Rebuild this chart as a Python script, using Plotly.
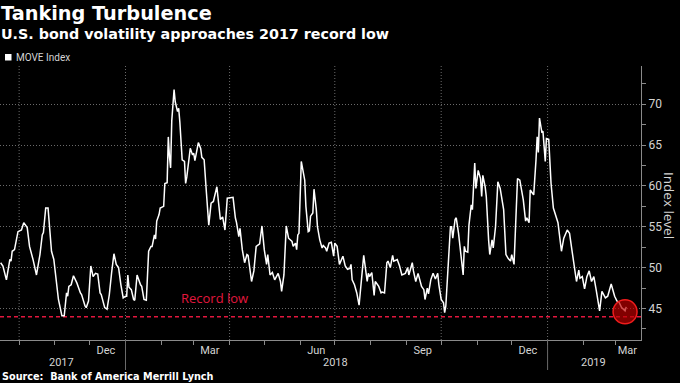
import plotly.graph_objects as go
import pandas as pd

# ---- data ----
dates = [
    "2017-09-15", "2017-09-17", "2017-09-20", "2017-09-23", "2017-09-24", "2017-09-25", "2017-09-27", "2017-09-30",
    "2017-10-03", "2017-10-05", "2017-10-08", "2017-10-10", "2017-10-13", "2017-10-16", "2017-10-19", "2017-10-21",
    "2017-10-22", "2017-10-24", "2017-10-26", "2017-10-29", "2017-10-31", "2017-11-02", "2017-11-04", "2017-11-07",
    "2017-11-09", "2017-11-11", "2017-11-12", "2017-11-13", "2017-11-15", "2017-11-17", "2017-11-20", "2017-11-23",
    "2017-11-24", "2017-11-27", "2017-11-28", "2017-11-30", "2017-12-02", "2017-12-04", "2017-12-06", "2017-12-08",
    "2017-12-10", "2017-12-11", "2017-12-14", "2017-12-16", "2017-12-18", "2017-12-20", "2017-12-22", "2017-12-24",
    "2017-12-26", "2017-12-28", "2017-12-30", "2018-01-01", "2018-01-02", "2018-01-03", "2018-01-04", "2018-01-06",
    "2018-01-08", "2018-01-09", "2018-01-11", "2018-01-14", "2018-01-15", "2018-01-17", "2018-01-19", "2018-01-21",
    "2018-01-23", "2018-01-24", "2018-01-26", "2018-01-27", "2018-01-28", "2018-01-30", "2018-01-31", "2018-02-03",
    "2018-02-04", "2018-02-06", "2018-02-07", "2018-02-08", "2018-02-09", "2018-02-10", "2018-02-12", "2018-02-13",
    "2018-02-15", "2018-02-16", "2018-02-17", "2018-02-19", "2018-02-21", "2018-02-22", "2018-02-23", "2018-02-26",
    "2018-02-28", "2018-03-01", "2018-03-02", "2018-03-05", "2018-03-07", "2018-03-08", "2018-03-10", "2018-03-12",
    "2018-03-14", "2018-03-16", "2018-03-18", "2018-03-21", "2018-03-24", "2018-03-26", "2018-03-28", "2018-03-30",
    "2018-04-03", "2018-04-04", "2018-04-06", "2018-04-07", "2018-04-09", "2018-04-10", "2018-04-12", "2018-04-14",
    "2018-04-16", "2018-04-17", "2018-04-20", "2018-04-22", "2018-04-24", "2018-04-27", "2018-04-29", "2018-05-01",
    "2018-05-03", "2018-05-04", "2018-05-06", "2018-05-08", "2018-05-10", "2018-05-13", "2018-05-15", "2018-05-16",
    "2018-05-18", "2018-05-20", "2018-05-22", "2018-05-25", "2018-05-26", "2018-05-28", "2018-05-29", "2018-05-30",
    "2018-05-31", "2018-06-02", "2018-06-05", "2018-06-06", "2018-06-08", "2018-06-09", "2018-06-10", "2018-06-12",
    "2018-06-13", "2018-06-15", "2018-06-16", "2018-06-18", "2018-06-20", "2018-06-21", "2018-06-23", "2018-06-24",
    "2018-06-26", "2018-06-28", "2018-06-30", "2018-07-01", "2018-07-03", "2018-07-04", "2018-07-05", "2018-07-08",
    "2018-07-10", "2018-07-12", "2018-07-14", "2018-07-15", "2018-07-16", "2018-07-18", "2018-07-20", "2018-07-22",
    "2018-07-24", "2018-07-26", "2018-07-29", "2018-07-30", "2018-07-31", "2018-08-02", "2018-08-04", "2018-08-05",
    "2018-08-08", "2018-08-10", "2018-08-11", "2018-08-13", "2018-08-15", "2018-08-16", "2018-08-18", "2018-08-20",
    "2018-08-21", "2018-08-24", "2018-08-26", "2018-08-28", "2018-08-31", "2018-09-02", "2018-09-03", "2018-09-06",
    "2018-09-07", "2018-09-09", "2018-09-11", "2018-09-14", "2018-09-16", "2018-09-17", "2018-09-19", "2018-09-20",
    "2018-09-22", "2018-09-24", "2018-09-26", "2018-09-28", "2018-09-29", "2018-10-01", "2018-10-03", "2018-10-04",
    "2018-10-05", "2018-10-07", "2018-10-09", "2018-10-10", "2018-10-11", "2018-10-13", "2018-10-14", "2018-10-16",
    "2018-10-18", "2018-10-20", "2018-10-21", "2018-10-22", "2018-10-24", "2018-10-25", "2018-10-27", "2018-10-28",
    "2018-10-30", "2018-10-31", "2018-11-02", "2018-11-04", "2018-11-05", "2018-11-06", "2018-11-08", "2018-11-09",
    "2018-11-11", "2018-11-12", "2018-11-14", "2018-11-15", "2018-11-17", "2018-11-19", "2018-11-21", "2018-11-23",
    "2018-11-24", "2018-11-26", "2018-11-28", "2018-11-30", "2018-12-01", "2018-12-03", "2018-12-06", "2018-12-08",
    "2018-12-10", "2018-12-11", "2018-12-13", "2018-12-14", "2018-12-16", "2018-12-17", "2018-12-19", "2018-12-20",
    "2018-12-22", "2018-12-23", "2018-12-24", "2018-12-25", "2018-12-27", "2018-12-28", "2018-12-30", "2018-12-31",
    "2019-01-02", "2019-01-04", "2019-01-06", "2019-01-08", "2019-01-10", "2019-01-13", "2019-01-15", "2019-01-18",
    "2019-01-20", "2019-01-22", "2019-01-25", "2019-01-26", "2019-01-28", "2019-01-29", "2019-01-31", "2019-02-02",
    "2019-02-04", "2019-02-06", "2019-02-08", "2019-02-10", "2019-02-12", "2019-02-13", "2019-02-15", "2019-02-17",
    "2019-02-20", "2019-02-22", "2019-02-25", "2019-02-28", "2019-03-02", "2019-03-04", "2019-03-06", "2019-03-09",
    "2019-03-10",
]

move_index = [
    50.6, 50.2, 48.5, 51.0, 50.8, 52.0, 52.2, 54.4,
    54.6, 55.5, 54.9, 52.6, 51.0, 49.1, 51.6, 54.0,
    54.3, 57.3, 57.3, 52.0, 51.0, 48.5, 46.1, 44.1,
    44.1, 46.9, 46.5, 47.7, 47.9, 49.0, 48.1, 46.9,
    46.7, 45.3, 45.1, 45.9, 50.2, 48.9, 49.3, 49.2,
    46.9, 46.7, 45.1, 44.9, 46.7, 49.4, 51.7, 50.4,
    50.0, 47.9, 46.3, 46.5, 46.5, 49.1, 47.6, 47.3,
    46.1, 46.0, 49.1, 47.9, 47.7, 46.1, 46.0, 52.0,
    52.6, 52.6, 54.0, 53.5, 55.7, 56.5, 57.3, 57.5,
    60.3, 60.4, 66.0, 63.6, 62.2, 68.0, 71.8, 70.3,
    69.1, 69.5, 67.8, 63.2, 63.0, 60.3, 61.1, 64.6,
    63.8, 64.0, 63.1, 65.3, 64.6, 63.5, 63.2, 59.1,
    55.2, 57.9, 58.1, 59.9, 55.9, 56.2, 54.6, 58.5,
    58.6, 58.6, 56.1, 55.5, 53.8, 54.8, 52.2, 50.6,
    51.6, 51.5, 48.3, 49.6, 52.6, 52.9, 55.1, 52.2,
    50.4, 51.6, 49.1, 49.4, 48.5, 49.3, 48.3, 47.1,
    49.1, 55.1, 53.6, 53.2, 52.6, 53.0, 52.2, 54.0,
    54.2, 63.0, 60.7, 57.5, 54.4, 54.5, 56.3, 56.7,
    59.6, 57.1, 55.0, 53.4, 52.4, 52.7, 52.4, 52.0,
    53.0, 53.1, 51.4, 53.0, 52.6, 51.6, 50.4, 51.4,
    50.2, 49.8, 49.9, 50.4, 48.5, 47.9, 46.9, 45.4,
    48.9, 51.5, 48.3, 49.3, 48.9, 49.4, 46.6, 48.3,
    47.7, 46.9, 47.0, 46.9, 50.6, 50.8, 50.0, 51.5,
    50.8, 51.0, 50.2, 49.1, 49.3, 50.0, 49.1, 50.6,
    49.6, 48.3, 49.3, 47.7, 47.3, 46.1, 47.5, 46.8,
    48.5, 49.3, 48.6, 49.3, 47.9, 46.1, 45.7, 44.5,
    45.3, 50.6, 55.0, 55.0, 53.6, 55.9, 56.1, 54.2,
    51.2, 49.1, 52.6, 52.0, 51.9, 55.2, 57.7, 57.1,
    62.8, 59.7, 61.9, 60.9, 58.7, 61.3, 59.9, 58.7,
    53.4, 51.6, 53.4, 52.4, 55.0, 60.5, 59.7, 57.5,
    57.1, 51.6, 51.1, 50.8, 51.6, 50.4, 60.9, 60.7,
    58.9, 58.3, 55.7, 56.1, 55.5, 59.5, 59.1, 58.9,
    63.2, 66.0, 64.1, 68.3, 66.6, 66.7, 63.0, 65.8,
    65.7, 60.3, 57.3, 56.5, 55.5, 52.0, 53.6, 54.6,
    54.2, 52.2, 49.6, 48.3, 49.7, 48.7, 48.9, 47.4,
    48.9, 49.6, 48.3, 48.9, 47.3, 46.3, 44.7, 47.1,
    46.3, 46.5, 48.0, 46.5, 45.9, 45.7, 45.1, 44.7,
    45.2,
]

record_low = 44.0
highlight_date = ["2019-03-09"]
highlight_value = [44.6]

y_ticks = [45, 50, 55, 60, 65, 70]
month_label_dates = ["2017-12-15", "2018-03-15", "2018-06-15", "2018-09-15", "2018-12-15", "2019-03-11"]
month_labels = ["Dec", "Mar", "Jun", "Sep", "Dec", "Mar"]
year_label_dates = ["2017-11-07", "2018-07-02", "2019-02-10"]
year_labels = ["2017", "2018", "2019"]
year_starts = ["2018-01-01", "2019-01-01"]
quarter_starts = ["2017-10-01", "2018-01-01", "2018-04-01", "2018-07-01", "2018-10-01", "2019-01-01"]
month_starts = [d.strftime("%Y-%m-%d") for d in pd.date_range("2017-10-01", "2019-03-01", freq="MS")]

# ---- style ----
RED = "#e3173e"
GRID = "#6a6a6a"
AXIS = "#8a8a8a"
TXT = "#d4d4d4"
HEAD = "DejaVu Sans, Verdana, sans-serif"
FONT = "Open Sans, Roboto, sans-serif"
TICKFONT = "Roboto, Open Sans, sans-serif"

W, H = 680, 383
M_L, M_R, M_T, M_B = 0, 39, 66, 43
PH = H - M_T - M_B
PW = W - M_L - M_R

fig = go.Figure()
fig.add_trace(go.Scatter(x=dates, y=move_index, mode="lines",
                         line=dict(color="white", width=1.5), showlegend=False,
                         hoverinfo="skip"))
fig.add_trace(go.Scatter(x=highlight_date, y=highlight_value, mode="markers",
                         marker=dict(size=24, color="rgba(190,0,0,0.68)",
                                     line=dict(color="#f01c1c", width=1.5)),
                         showlegend=False, hoverinfo="skip"))

shapes = []
for q in quarter_starts:
    shapes.append(dict(type="line", xref="x", yref="paper", x0=q, x1=q, y0=0, y1=1,
                       line=dict(color=GRID, width=1, dash="1px,2px"), layer="below"))
for ys in year_starts:
    shapes.append(dict(type="line", xref="x", yref="paper", x0=ys, x1=ys, y0=-30 / PH, y1=0,
                       line=dict(color="#6a6a6a", width=1)))
shapes.append(dict(type="line", xref="paper", yref="y", x0=0, x1=1, y0=record_low, y1=record_low,
                   line=dict(color=RED, width=1.5, dash="4px,3px"), layer="below"))
# legend swatch
shapes.append(dict(type="rect", xref="paper", yref="paper",
                   x0=5 / PW, x1=11.5 / PW, y0=(PH + M_T - 60.5) / PH, y1=(PH + M_T - 54) / PH,
                   fillcolor="white", line=dict(width=0)))

annotations = [
    dict(text="<b>Tanking Turbulence</b>", xref="paper", yref="paper", x=0, y=1,
         xanchor="left", yanchor="middle", yshift=M_T - 13, xshift=-1, showarrow=False,
         font=dict(family=HEAD, size=19.3, color="white")),
    dict(text="<b>U.S. bond volatility approaches 2017 record low</b>", xref="paper", yref="paper",
         x=0, y=1, xanchor="left", yanchor="middle", yshift=M_T - 34, xshift=-1, showarrow=False,
         font=dict(family=HEAD, size=14.3, color="white")),
    dict(text="MOVE Index", xref="paper", yref="paper", x=14 / PW, y=1, xanchor="left",
         yanchor="middle", yshift=M_T - 57.5, showarrow=False,
         font=dict(family=TICKFONT, size=10, color=TXT)),
    dict(text="Index level", xref="paper", yref="paper", x=1, y=0.493, xshift=28,
         xanchor="center", yanchor="middle", textangle=90, showarrow=False, borderpad=0,
         font=dict(family=FONT, size=13.5, color=TXT)),
    dict(text="Record low", xref="paper", yref="y", x=214 / PW, y=record_low, yshift=19,
         xanchor="center", yanchor="middle", showarrow=False,
         font=dict(family=FONT, size=13, color=RED)),
    dict(text="<b>Source:  Bank of America Merrill Lynch</b>", xref="paper", yref="paper",
         x=0, y=0, xanchor="left", yanchor="middle", yshift=-36, xshift=0, showarrow=False,
         font=dict(family=HEAD, size=9.7, color="white")),
]
for d, lab in zip(year_label_dates, year_labels):
    annotations.append(dict(text=lab, xref="x", yref="paper", x=d, y=0, yshift=-22,
                            xanchor="center", yanchor="middle", showarrow=False,
                            font=dict(family=TICKFONT, size=11, color=TXT)))

fig.update_layout(
    width=W, height=H,
    margin=dict(l=M_L, r=M_R, t=M_T, b=M_B, autoexpand=False),
    paper_bgcolor="black", plot_bgcolor="black",
    showlegend=False,
    shapes=shapes, annotations=annotations,
    xaxis=dict(
        type="date",
        range=["2017-09-14 11:00", "2019-03-22 19:00"],
        tickmode="array", tickvals=month_label_dates, ticktext=month_labels,
        ticks="", showgrid=False, zeroline=False,
        showline=True, linecolor=AXIS, linewidth=1,
        tickfont=dict(family=TICKFONT, size=11, color=TXT),
        minor=dict(tickmode="array", tickvals=month_starts, ticks="outside",
                   ticklen=4, tickcolor=AXIS, showgrid=False),
    ),
    yaxis=dict(
        side="right",
        range=[41.14, 74.68],
        tickmode="array", tickvals=y_ticks,
        ticks="outside", ticklen=4, tickcolor=AXIS,
        showline=True, linecolor=AXIS, linewidth=1,
        showgrid=True, gridcolor=GRID, griddash="1px,2px", gridwidth=1,
        zeroline=False,
        tickfont=dict(family=TICKFONT, size=12, color=TXT),
        minor=dict(tickmode="linear", tick0=42.5, dtick=5, ticks="outside",
                   ticklen=4, tickcolor=AXIS, showgrid=False),
    ),
)

fig.write_html("out.html", config={"displayModeBar": False},
               post_script="document.body.style.margin='0';")
